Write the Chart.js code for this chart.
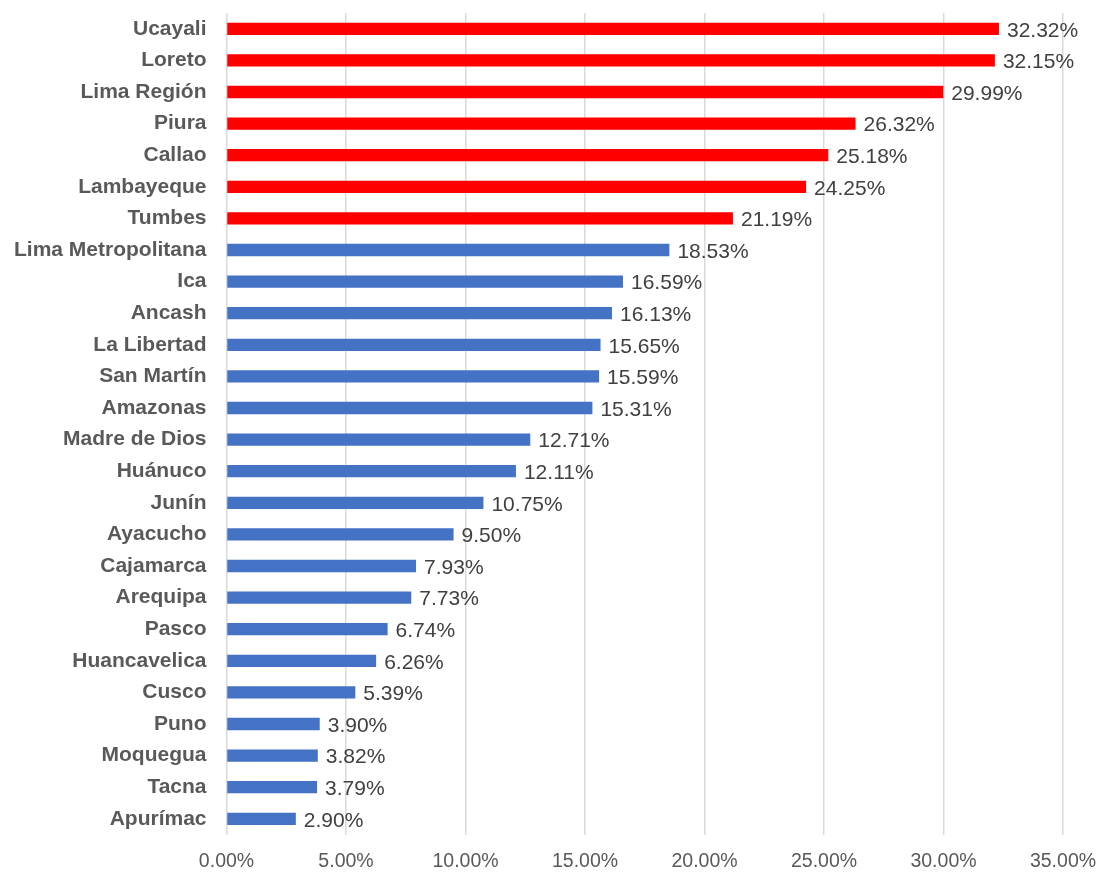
<!DOCTYPE html>
<html>
<head>
<meta charset="utf-8">
<script src="https://cdn.jsdelivr.net/npm/chart.js@4/dist/chart.umd.min.js"></script>
<style>
  html, body { margin: 0; padding: 0; background: #fff; }
  #wrap { width: 1102px; height: 877px; }
</style>
</head>
<body>
<div id="wrap"><canvas id="myChart" width="1102" height="877"></canvas></div>
<script>
const regions = [
	'Ucayali', 'Loreto', 'Lima Región', 'Piura', 'Callao', 'Lambayeque', 'Tumbes',
	'Lima Metropolitana', 'Ica', 'Ancash', 'La Libertad', 'San Martín', 'Amazonas',
	'Madre de Dios', 'Huánuco', 'Junín', 'Ayacucho', 'Cajamarca', 'Arequipa', 'Pasco',
	'Huancavelica', 'Cusco', 'Puno', 'Moquegua', 'Tacna', 'Apurímac'
];
const rates = [
	32.32, 32.15, 29.99, 26.32, 25.18, 24.25, 21.19,
	18.53, 16.59, 16.13, 15.65, 15.59, 15.31,
	12.71, 12.11, 10.75, 9.50, 7.93, 7.73, 6.74,
	6.26, 5.39, 3.90, 3.82, 3.79, 2.90
];
// regions over 20% are highlighted
const highlighted = ['Ucayali', 'Loreto', 'Lima Región', 'Piura', 'Callao', 'Lambayeque', 'Tumbes'];
const xTicks = [0, 5, 10, 15, 20, 25, 30, 35];

const barColors = regions.map(r => highlighted.includes(r) ? '#FF0000' : '#4472C4');

// value labels to the right of each bar
const valueLabels = {
	id: 'valueLabels',
	afterDatasetsDraw(chart) {
		const ctx = chart.ctx;
		const meta = chart.getDatasetMeta(0);
		ctx.save();
		ctx.font = '21px "Liberation Sans", Arial, sans-serif';
		ctx.fillStyle = '#404040';
		ctx.textAlign = 'left';
		ctx.textBaseline = 'middle';
		meta.data.forEach((bar, i) => {
			ctx.fillText(rates[i].toFixed(2) + '%', bar.x + 8, bar.y + 2);
		});
		ctx.restore();
	}
};

new Chart('myChart', {
	type: 'bar',
	data: {
		labels: regions,
		datasets: [
			{
				data: rates,
				backgroundColor: barColors,
				borderWidth: 0,
				barPercentage: 0.39,
				categoryPercentage: 1,
			},
		],
	},
	options: {
		indexAxis: 'y',
		responsive: false,
		animation: false,
		layout: {
			padding: { top: 13, right: 39, bottom: 4, left: 14 },
		},
		plugins: {
			legend: { display: false },
			tooltip: { enabled: false },
		},
		scales: {
			x: {
				min: 0,
				max: 35,
				afterBuildTicks: axis => {
					axis.ticks = xTicks.map(v => ({ value: v }));
				},
				grid: {
					color: '#D9D9D9',
					lineWidth: 1.5,
					drawTicks: true,
					tickLength: 15,
					tickColor: 'rgba(0,0,0,0)',
				},
				border: { display: false },
				ticks: {
					padding: 0,
					color: '#595959',
					font: { family: '"Liberation Sans", Arial, sans-serif', size: 19.5 },
					callback: v => v.toFixed(2) + '%',
				},
			},
			y: {
				grid: {
					display: false,
					drawTicks: true,
					tickLength: 20,
				},
				border: { display: false },
				ticks: {
					padding: 0,
					color: '#595959',
					font: { family: '"Liberation Sans", Arial, sans-serif', size: 21, weight: 'bold' },
				},
			},
		},
	},
	plugins: [valueLabels],
});
</script>
</body>
</html>
